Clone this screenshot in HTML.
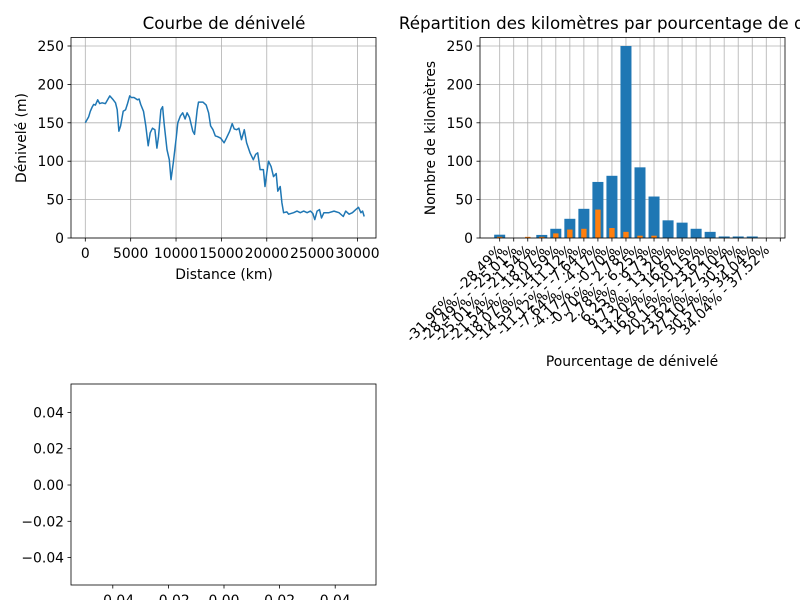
<!DOCTYPE html>
<html><head><meta charset="utf-8"><style>
body{margin:0;background:#fff}
svg{display:block;font-family:"DejaVu Sans","Liberation Sans",sans-serif}
</style></head><body>
<svg id="fig" width="800" height="600" viewBox="0 0 800 600">
<rect width="800" height="600" fill="#fff"/>
<g id="left"></g>
<g id="right"></g>
<g id="bottom"></g>
</svg>
<script>
// Elevation profile data
const distances=[0,370,555,740,925,1110,1370,1590,1850,2220,2700,3070,3330,3520,3700,3890,4180,4440,4630,4890,5070,5370,5740,5930,6110,6410,6670,6930,7150,7410,7670,7890,8070,8330,8520,8700,9000,9260,9440,9700,10000,10190,10480,10740,11000,11220,11480,11850,12040,12330,12480,12960,13330,13590,13810,14070,14330,14560,14920,15300,15550,15920,16190,16410,16670,16930,17220,17520,17780,18150,18520,18780,19000,19260,19630,19810,20000,20190,20480,20740,21040,21220,21480,21670,21850,22220,22410,22960,23330,23700,24070,24440,24810,25070,25290,25550,25810,26030,26300,26850,27410,27960,28440,28700,29070,29440,29810,30110,30370,30560,30740];
const elevations=[150,158,165,170,174,173,180,175,176,175,185,180,176,167,139,146,165,167,174,185,183,183,180,181,174,165,146,120,137,143,141,117,132,167,171,148,115,102,76,98,128,150,159,163,155,163,157,139,135,167,177,177,173,163,146,141,133,132,130,124,130,139,149,142,141,143,128,141,124,111,102,109,111,89,89,67,85,100,93,80,84,61,67,46,33,34,31,33,35,33,35,33,35,32,24,35,37,26,33,33,35,33,28,35,31,33,37,40,33,35,28];
const elevTicksX=[0,5000,10000,15000,20000,25000,30000];
const elevTicksY=[0,50,100,150,200,250];
// Histogram data
const binEdges=["-31.96","-28.49","-25.01","-21.54","-18.07","-14.59","-11.12","-7.64","-4.17","-0.70","2.78","6.25","9.73","13.20","16.67","20.15","23.62","27.10","30.57","34.04","37.52"];
const kmTotal=[4.3,0,0,4,12,25,38,73,81,250,92,54,23,20,12,8,2,2,2,0];
const kmSub=[1.5,0,1.5,1.5,6,11,12,37,13,8,3,3,0,0,0,0,0,0,0,0];
const histTicksY=[0,50,100,150,200,250];
const emptyTicks=[-0.04,-0.02,0.00,0.02,0.04];

const FS=13.9, TFS=16.7;
const NS="http://www.w3.org/2000/svg";
function mk(parent,tag,attrs,text){const e=document.createElementNS(NS,tag);for(const k in attrs)e.setAttribute(k,attrs[k]);if(text!==undefined)e.textContent=text;parent.appendChild(e);return e;}
function fmtMinus(s){return String(s).replace(/^-/,'\u2212');}

// ---- Left chart ----
const L=document.getElementById('left');
const lx=d=>85.3+d*(272.2/30000), ly=v=>238-v*0.768;
elevTicksY.forEach(v=>{
  const g=mk(L,'line',{x1:71,x2:376,y1:ly(v),y2:ly(v),stroke:'#b0b0b0','stroke-width':0.8});
  
  
  mk(L,'line',{x1:67.5,x2:71,y1:ly(v),y2:ly(v),stroke:'#000','stroke-width':0.8});
  const t=mk(L,'text',{x:64,y:ly(v)+5,'font-size':FS,'text-anchor':'end'},v);
  
  
});
elevTicksX.forEach(v=>{
  const g=mk(L,'line',{x1:lx(v),x2:lx(v),y1:37.5,y2:238,stroke:'#b0b0b0','stroke-width':0.8});
  
  
  mk(L,'line',{x1:lx(v),x2:lx(v),y1:238,y2:241.5,stroke:'#000','stroke-width':0.8});
  const t=mk(L,'text',{x:lx(v),y:258,'font-size':FS,'text-anchor':'middle'},v);
  
  
});
const pts=distances.map((d,i)=>lx(d).toFixed(1)+','+ly(elevations[i]).toFixed(1)).join(' ');
const pl=mk(L,'polyline',{points:pts,fill:'none',stroke:'#1f77b4','stroke-width':1.5,'stroke-linejoin':'round'});


const lf=mk(L,'rect',{x:71,y:37.5,width:305,height:200.5,fill:'none',stroke:'#000','stroke-width':0.8});


let t=mk(L,'text',{x:224,y:29,'font-size':TFS,'text-anchor':'middle'},'Courbe de dénivelé');


t=mk(L,'text',{x:224,y:279,'font-size':FS,'text-anchor':'middle'},'Distance (km)');


t=mk(L,'text',{x:26,y:138,'font-size':FS,'text-anchor':'middle',transform:'rotate(-90 26 138)'},'Dénivelé (m)');



// ---- Right chart ----
const R=document.getElementById('right');
const rx=i=>499.7+i*14.03, ry=v=>238-v*0.768;
histTicksY.forEach(v=>{
  const g=mk(R,'line',{x1:480,x2:785,y1:ry(v),y2:ry(v),stroke:'#b0b0b0','stroke-width':0.8});
  
  
  mk(R,'line',{x1:476.5,x2:480,y1:ry(v),y2:ry(v),stroke:'#000','stroke-width':0.8});
  const t=mk(R,'text',{x:473,y:ry(v)+5,'font-size':FS,'text-anchor':'end'},v);
  
  
});
binEdges.forEach((e,i)=>{
  const g=mk(R,'line',{x1:rx(i),x2:rx(i),y1:37.5,y2:238,stroke:'#b0b0b0','stroke-width':0.8});
  
  
  mk(R,'line',{x1:rx(i),x2:rx(i),y1:238,y2:241.5,stroke:'#000','stroke-width':0.8});
});
kmTotal.forEach((v,i)=>{
  const b=mk(R,'rect',{x:rx(i)-5.5,y:ry(v),width:11,height:v*0.768,fill:'#1f77b4'});
  
  
});
kmSub.forEach((v,i)=>{
  const b=mk(R,'rect',{x:rx(i)-2.7,y:ry(v),width:5.4,height:v*0.768,fill:'#ff7f0e'});
  
  
});
for(let i=0;i<binEdges.length-1;i++){
  const lbl=binEdges[i]+'% - '+binEdges[i+1]+'%';
  const x=rx(i)+4,y=251;
  const tt=mk(R,'text',{x:x,y:y,'font-size':FS,'text-anchor':'end',transform:`rotate(-45 ${x} ${y})`},lbl);
  
  
}
const rf=mk(R,'rect',{x:480,y:37.5,width:305,height:200.5,fill:'none',stroke:'#000','stroke-width':0.8});


t=mk(R,'text',{x:632,y:29,'font-size':TFS,'text-anchor':'middle'},'Répartition des kilomètres par pourcentage de dénivelé');


t=mk(R,'text',{x:632,y:366,'font-size':FS,'text-anchor':'middle'},'Pourcentage de dénivelé');


t=mk(R,'text',{x:435,y:138,'font-size':FS,'text-anchor':'middle',transform:'rotate(-90 435 138)'},'Nombre de kilomètres');



// ---- Bottom empty chart ----
const B=document.getElementById('bottom');
const bx=v=>224+v*2780, by=v=>485-v*1815;
emptyTicks.forEach(v=>{
  mk(B,'line',{x1:67.5,x2:71,y1:by(v),y2:by(v),stroke:'#000','stroke-width':0.8});
  const t=mk(B,'text',{x:64,y:by(v)+5,'font-size':FS,'text-anchor':'end'},fmtMinus(v.toFixed(2)));
  
  
  mk(B,'line',{x1:bx(v),x2:bx(v),y1:585,y2:588.5,stroke:'#000','stroke-width':0.8});
  const t2=mk(B,'text',{x:bx(v),y:605,'font-size':FS,'text-anchor':'middle'},fmtMinus(v.toFixed(2)));
  
  
});
const bf=mk(B,'rect',{x:71,y:384,width:305,height:201,fill:'none',stroke:'#000','stroke-width':0.8});


</script>
</body></html>
